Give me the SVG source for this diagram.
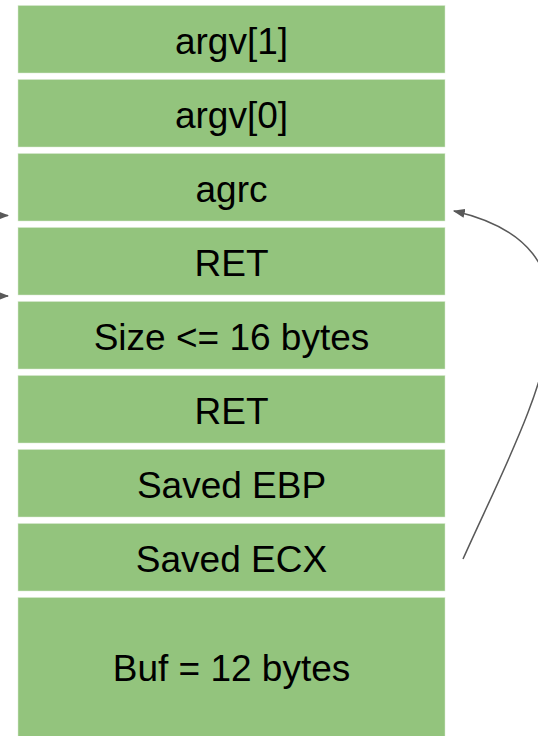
<svg xmlns="http://www.w3.org/2000/svg" width="538" height="736" viewBox="0 0 538 736">
<defs>
<style>
.box{fill:#93c47d;stroke:#d9ead3;stroke-width:0.5}
.lbl{font-family:"Liberation Sans",Arial,sans-serif;font-size:37px;fill:#000;text-anchor:middle}
.conn{fill:none;stroke:#595959;stroke-width:1.5}
</style>
<marker id="ah" viewBox="0 0 10 10" refX="9" refY="5" markerWidth="8" markerHeight="6" markerUnits="strokeWidth" orient="auto" preserveAspectRatio="none">
<path d="M0,0 L10,5 L0,10 z" fill="#595959"/>
</marker>
</defs>
<rect width="538" height="736" fill="#fff"/>
<g id="n-argv1"><rect class="box" x="18" y="5.5" width="427" height="67.5"/><text class="lbl" x="231.5" y="54">argv[1]</text></g>
<g id="n-argv0"><rect class="box" x="18" y="79.5" width="427" height="67.5"/><text class="lbl" x="231.5" y="128">argv[0]</text></g>
<g id="n-agrc"><rect class="box" x="18" y="153.5" width="427" height="67.5"/><text class="lbl" x="231.5" y="202">agrc</text></g>
<g id="n-ret1"><rect class="box" x="18" y="227.5" width="427" height="67.5"/><text class="lbl" x="231.5" y="276">RET</text></g>
<g id="n-size"><rect class="box" x="18" y="301.5" width="427" height="67.5"/><text class="lbl" x="231.5" y="350">Size &lt;= 16 bytes</text></g>
<g id="n-ret2"><rect class="box" x="18" y="375.5" width="427" height="67.5"/><text class="lbl" x="231.5" y="424">RET</text></g>
<g id="n-ebp"><rect class="box" x="18" y="449.5" width="427" height="67.5"/><text class="lbl" x="231.5" y="498">Saved EBP</text></g>
<g id="n-ecx"><rect class="box" x="18" y="523.5" width="427" height="67.5"/><text class="lbl" x="231.5" y="572">Saved ECX</text></g>
<g id="n-buf"><rect class="box" x="18" y="597.5" width="427" height="145"/><text class="lbl" x="231.5" y="681">Buf = 12 bytes</text></g>
<g id="connectors">
<path class="conn" d="M-20,215.5 L8,215.5" marker-end="url(#ah)"/>
<path class="conn" d="M-20,296 L8,296" marker-end="url(#ah)"/>
<path class="conn" d="M463,559 C532,405 625,250 454,211" marker-end="url(#ah)"/>
</g>
</svg>
